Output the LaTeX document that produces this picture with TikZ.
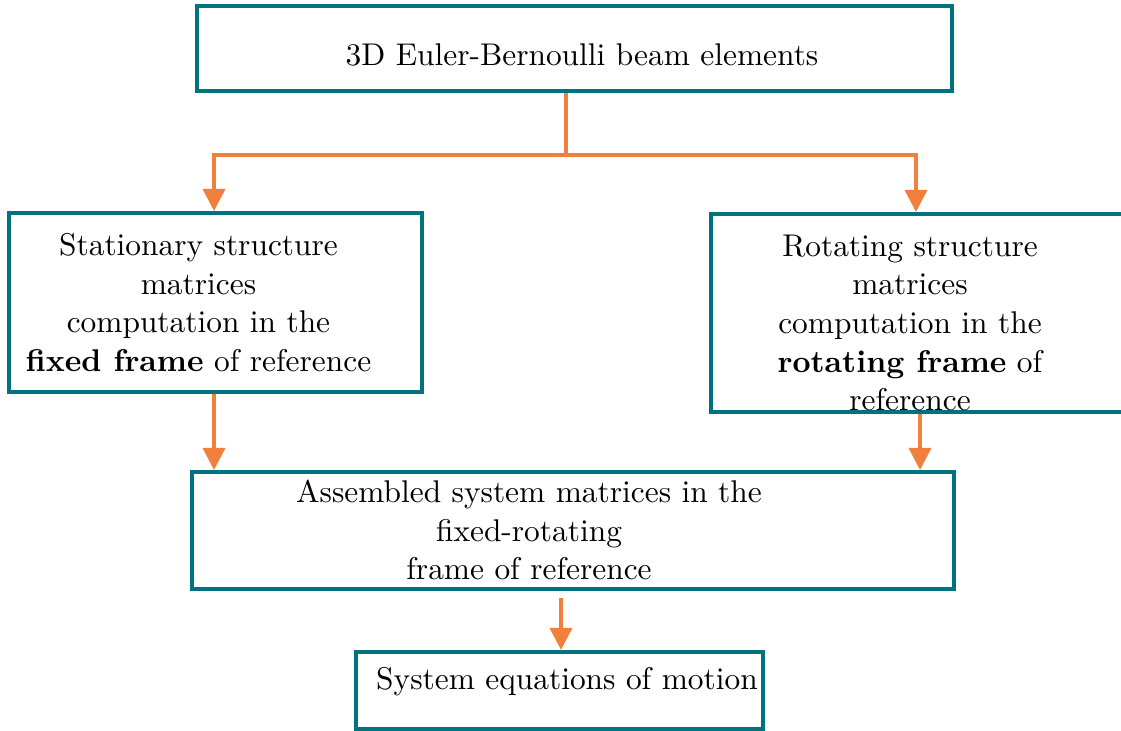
\documentclass[tikz,border=0pt]{standalone}
\usepackage{fontspec}
\setmainfont{lmroman10}[Extension=.otf,UprightFont=*-regular,BoldFont=*-bold,ItalicFont=*-italic,BoldItalicFont=*-bolditalic]
\usetikzlibrary{arrows.meta,calc}
\definecolor{boxteal}{RGB}{0,114,128}
\definecolor{arrorange}{RGB}{240,128,60}
\begin{document}
\begin{tikzpicture}[x=0.5pt,y=-0.5pt,
  box/.style={draw=boxteal,line width=2pt,rectangle,inner sep=0pt},
  txt/.style={align=center,inner sep=0pt,font=\fontsize{15.7}{19.3}\selectfont},
  conn/.style={draw=arrorange,line width=1.7pt},
  arr/.style={conn,-{Triangle[width=11pt,length=11pt]}}]
\useasboundingbox (0,0) rectangle (1121,731);
% boxes
\node[box,minimum width=377.5pt,minimum height=42.5pt] (top) at (574.5,48.5) {};
\node[box,minimum width=206.5pt,minimum height=89.5pt] (lbox) at (215.5,302.5) {};
\node[box,minimum width=208pt,minimum height=99pt] (rbox) at (919,313) {};
\node[box,minimum width=381pt,minimum height=58.5pt] (asm) at (573,530.5) {};
\node[box,minimum width=203.5pt,minimum height=38.5pt] (bot) at (559.5,690.5) {};
% texts
\node[txt] (toptxt) at (582,55) {3D Euler-Bernoulli beam elements};
\node[txt] (ltxt) at (198.5,302.5) {Stationary structure\\matrices\\computation in the\\\textbf{fixed frame} of reference};
\node[txt] (rtxt) at (910,323) {Rotating structure\\matrices\\computation in the\\\textbf{rotating frame} of\\reference};
\node[txt] (asmtxt) at (529,530) {Assembled system matrices in the\\fixed-rotating\hspace*{14.5pt}\\frame of reference};
\node[txt] (bottxt) at (567,682) {System equations of motion};
% connectors
\coordinate (j) at (566,155);
\coordinate (jl) at (214,155);
\coordinate (jr) at (916,155);
\draw[conn] (top.south -| j) -- (j);
\draw[arr] (j) -| (lbox.north -| jl);
\draw[arr] (j) -| (rbox.north -| jr);
\draw[arr] (lbox.south -| jl) -- (asm.north -| jl);
\coordinate (rx) at (920,0);
\draw[arr] (rbox.south -| rx) -- (asm.north -| rx);
\path (asm.south -| 561,0) ++(0,7) coordinate (bs);
\draw[arr] (bs) -- (bot.north -| bs);
\end{tikzpicture}
\end{document}
